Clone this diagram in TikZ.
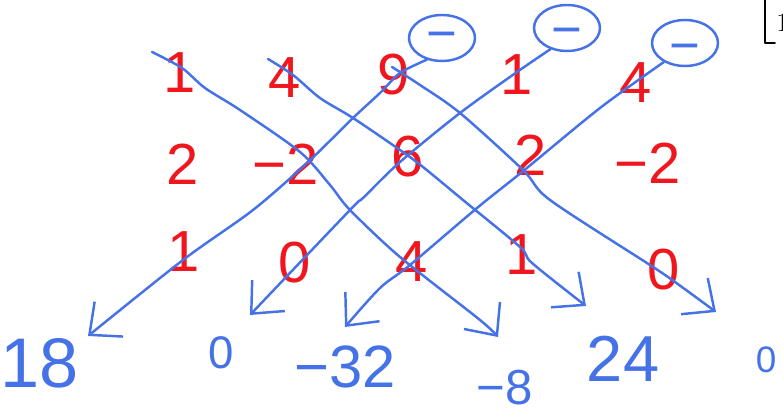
\documentclass[tikz,border=0pt]{standalone}
\usepackage{fontspec}
\newfontfamily\handfont{Liberation Sans}
\usetikzlibrary{arrows.meta,shapes.geometric}
\definecolor{PenBlue}{HTML}{4672E8}
\definecolor{PenRed}{HTML}{F0161E}

\begin{document}
\begin{tikzpicture}[x=0.02cm,y=-0.02cm,line cap=round,line join=round,
  entry/.style={text=PenRed,font=\handfont\fontsize{33}{33}\selectfont,inner sep=0pt},
  result/.style={text=PenBlue,font=\handfont\fontsize{36}{36}\selectfont,inner sep=0pt},
  pen/.style={PenBlue,line width=1.4pt},
  sweep/.style={pen,-{Straight Barb[length=5mm,width=9mm]}},
  minusring/.style={pen,draw,ellipse,minimum width=1.32cm,minimum height=0.92cm,inner sep=0pt},
  ringsign/.style={anchor=base,inner sep=0pt,text=PenBlue,font=\handfont\fontsize{30}{30}\selectfont}]
  \useasboundingbox (0,0) rectangle (783,415);
  \clip (0,0) rectangle (783,415);
  % matrix with the first two columns repeated
  \node[entry] (a11) at (180,73) {1};
  \node[entry] (a12) at (285,78) {4};
  \node[entry] (a13) at (394,75) {9};
  \node[entry] (a14) at (517,75) {1};
  \node[entry] (a15) at (636,83) {4};
  \node[entry] (a21) at (183,164) {2};
  \node[entry] (a22) at (286,164) {−2};
  \node[entry] (a23) at (408,157) {6};
  \node[entry] (a24) at (531,155) {2};
  \node[entry] (a25) at (648,163) {−2};
  \node[entry] (a31) at (184,252) {1};
  \node[entry] (a32) at (295,263) {0};
  \node[entry] (a33) at (412,262) {4};
  \node[entry] (a34) at (522,255) {1};
  \node[entry] (a35) at (664,270) {0};
  % minus rings on the up-right sweeps
  \node[minusring] (m1) at (442,38) {};
  \node[minusring] (m2) at (567,28) {};
  \node[minusring] (m3) at (685,43) {};
  \node[ringsign] (s1) at ([yshift=-7.5pt]m1.center) {−};
  \node[ringsign] (s2) at ([yshift=-11pt]m2.center) {−};
  \node[ringsign] (s3) at ([yshift=-11.5pt]m3.center) {−};
  % products
  \node[result,font=\handfont\fontsize{40}{40}\selectfont] (p1) at (40,363) {18};
  \node[result,font=\handfont\fontsize{26}{26}\selectfont] (p2) at (221,353) {0};
  \node[result,font=\handfont\fontsize{34}{34}\selectfont] (p3) at (345,367) {−32};
  \node[result,font=\handfont\fontsize{28}{28}\selectfont] (p4) at (505,388) {−8};
  \node[result,font=\handfont\fontsize{37}{37}\selectfont] (p5) at (623,359) {24};
  \node[result,font=\handfont\fontsize{21}{21}\selectfont] (p6) at (766,360) {0};
  % arrow ends
  \coordinate (tD1) at (498,337);
  \coordinate (tD2) at (586,306);
  \coordinate (tD3) at (716,312);
  \coordinate (tU1) at (88,336);
  \coordinate (tU2) at (250,315);
  \coordinate (tU3) at (345,327);
  % down-right sweeps
  \draw[sweep] plot[smooth,tension=0.5] coordinates {(152,52) (182,68) (205,88) (240,110) (300,152) (330,185) (350,210) (400,257) (480,320) (tD1)};
  \draw[sweep] plot[smooth,tension=0.5] coordinates {(268,59) (293,75) (320,98) (353,118) (400,150) (423,167) (463,200) (520,247) (532,263) (tD2)};
  \draw[sweep] plot[smooth,tension=0.5] coordinates {(392,67) (420,85) (460,113) (523,170) (550,200) (650,265) (675,282) (tD3)};
  % up-right sweeps
  \draw[sweep] plot[smooth,tension=0.5] coordinates {(m1.235) (400,73) (380,93) (353,118) (307,163) (253,210) (183,260) (tU1)};
  \draw[sweep] plot[smooth,tension=0.5] coordinates {(m2.232) (517,72) (460,113) (400,162) (363,198) (350,210) (tU2)};
  \draw[sweep] plot[smooth,tension=0.5] coordinates {(m3.222) (600,108) (522,172) (477,208) (410,265) (380,288) (tU3)};
  % cropped bracket at the edge
  \draw[black,line width=0.9pt] (765,-2) -- (765,43) -- (775,43);
  \node[anchor=west,inner sep=0pt,font=\fontsize{15}{15}\selectfont] (edge) at (776,23) {1};
\end{tikzpicture}
\end{document}
